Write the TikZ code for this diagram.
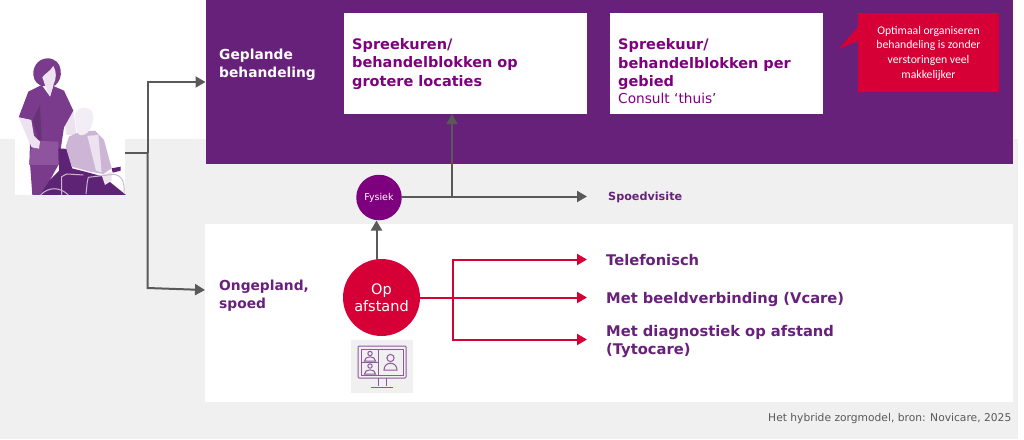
\documentclass[tikz,border=0pt]{standalone}
\usepackage{fontspec}
\setmainfont{DejaVu Sans}
\newfontfamily\calib{Carlito}
\definecolor{pur}{HTML}{68217A}
\definecolor{pur2}{HTML}{7F007F}
\definecolor{rd}{HTML}{D60036}
\definecolor{gr}{HTML}{F0F0F0}
\definecolor{ar}{HTML}{595959}
\definecolor{nurse}{HTML}{7A3B8C}
\definecolor{nurse2}{HTML}{8E559E}
\definecolor{skin}{HTML}{EDE3F0}
\definecolor{coat}{HTML}{CDB5D6}
\definecolor{dark}{HTML}{5F2376}
\usetikzlibrary{arrows.meta}
\tikzset{
  x=1pt,y=-1pt,
  hd/.style={font=\fontsize{14.5}{18.5}\selectfont\bfseries,text=pur2,align=left,anchor=north west,inner sep=0},
  side/.style={font=\fontsize{13.8}{18}\selectfont\bfseries,align=left,anchor=west,inner sep=0},
  opt/.style={font=\fontsize{14.7}{17.5}\selectfont\bfseries,text=pur,align=left,inner sep=0},
  garrow/.style={draw=ar,line width=2pt,-{Triangle[length=10pt,width=11pt]}},
  gline/.style={draw=ar,line width=2pt},
  rarrow/.style={draw=rd,line width=2pt,-{Triangle[length=10pt,width=11pt]}},
  iconline/.style={draw=pur!75!white,line width=1pt},
}
\begin{document}
\begin{tikzpicture}
\useasboundingbox (0,0) rectangle (1024,439);
\fill[white] (0,0) rectangle (1024,439);
\fill[gr] (0,139) rectangle (1018,439);
\fill[white] (15,139) rectangle (125,195);
\fill[pur] (206,0) rectangle (1013,164);
\fill[white] (205,224) rectangle (1013,402);
% person
\begin{scope}[shift={(0,40)},x=0.3333pt,y=-0.3333pt]
 % far arm
 \fill[skin] (190,235) -- (220,212) -- (230,285) -- (200,285) -- cycle;
 % trousers
 \fill[nurse] (90,370) -- (97,465) -- (150,465) -- (150,420) -- (178,370) -- cycle;
 % shirt
 \fill[nurse] (92,240) -- (88,375) -- (175,375) -- (192,262) -- (220,212) -- (192,152) -- (160,138) -- (150,170) -- (125,135) -- (85,155) -- (56,232) -- cycle;
 \fill[nurse2] (88,375) -- (92,330) -- (118,303) -- (175,305) -- (175,375) -- cycle;
 \fill[nurse!85!black] (120,195) -- (125,300) -- (115,300) -- (98,240) -- cycle;
 % arm
 \fill[skin] (56,232) -- (94,240) -- (102,288) -- (120,305) -- (117,326) -- (95,322) -- (83,295) -- cycle;
 % hair, face
 \fill[nurse] (140,55) .. controls (110,58) and (98,85) .. (100,105) .. controls (102,125) and (115,135) .. (128,138) -- (165,137) .. controls (178,125) and (185,110) .. (182,90) .. controls (180,70) and (165,54) .. (140,55) -- cycle;
 \fill[skin] (135,135) -- (127,112) .. controls (135,100) and (150,95) .. (160,78) .. controls (170,95) and (170,115) .. (160,135) -- (150,170) -- cycle;
 % old person
 \fill[dark] (175,325) -- (203,327) -- (220,400) -- (178,400) -- cycle;
 \fill[coat] (240,275) -- (285,272) -- (312,300) -- (335,385) -- (310,402) -- (270,395) -- (215,380) -- (197,320) -- (207,290) -- cycle;
 \fill[skin] (262,288) -- (295,285) -- (305,398) -- (288,392) -- cycle;
 \fill[skin!65!white] (225,235) .. controls (218,200) and (275,190) .. (280,225) .. controls (282,260) and (262,290) .. (240,285) .. controls (228,280) and (230,260) .. (225,235) -- cycle;
 % wheelchair and legs
 \fill[dark] (178,392) -- (215,385) -- (255,395) -- (310,410) -- (378,465) -- (120,465) -- (150,420) -- cycle;
 \fill[skin] (305,405) -- (335,395) -- (335,422) -- (315,435) -- cycle;
 \fill[dark] (335,385) -- (362,380) -- (362,392) -- (338,398) -- cycle;
 \draw[coat,line width=1pt] (185,465) -- (185,410) -- (200,402) -- (250,405);
 \draw[coat,line width=1pt] (122,465) .. controls (145,440) and (180,440) .. (205,465);
 \draw[coat,line width=1pt] (258,462) -- (262,425) -- (265,412) -- (340,403) .. controls (365,405) and (375,425) .. (372,460);
\end{scope}
% text panels
\fill[white] (343.5,13) rectangle (586.5,114);
\fill[white] (609.5,13) rectangle (823,114);
\node[side,text=white] (geplande) at (219,65) {Geplande\\behandeling};
\node[hd] (t1) at (352,38) {Spreekuren/\\behandelblokken op\\grotere locaties};
\node[hd] (t2) at (618,38.5) {Spreekuur/\\behandelblokken per\\gebied};
\node[anchor=base west,inner sep=0,text=pur2,font=\fontsize{13.7}{17}\selectfont] (t3) at (618,103) {Consult ‘thuis’};
% callout
\fill[rd] (858,13) -- (999,13) -- (999,92) -- (858,92) -- (858,27) -- (838.5,49) -- (858,41) -- cycle;
\node[font=\calib\fontsize{11.7}{14.7}\selectfont,text=white,align=center,inner sep=0] (callout) at (928.5,53) {Optimaal organiseren\\behandeling is zonder\\verstoringen veel\\makkelijker};
% circles
\node[circle,fill=pur2,minimum size=45.5pt,inner sep=0,text=white,font=\fontsize{9.5}{11}\selectfont] (fysiek) at (379,197.5) {Fysiek};
\node[circle,fill=rd,minimum size=77pt,inner sep=0,text=white,font=\fontsize{14.5}{17.5}\selectfont,align=center] (afstand) at (381.5,297.5) {Op\\afstand};
% labels
\node[font=\fontsize{11.2}{13}\selectfont\bfseries,text=pur,anchor=base west,inner sep=0] (spoed) at (608,200.5) {Spoedvisite};
\node[side,text=pur] (ongepland) at (219,296) {Ongepland,\\spoed};
\node[opt,anchor=base west] (tel) at (606,265) {Telefonisch};
\node[opt,anchor=base west] (beeld) at (606,303) {Met beeldverbinding (Vcare)};
\node[opt,anchor=west] (diag) at (606,341.5) {Met diagnostiek op afstand\\(Tytocare)};
\node[font=\fontsize{10.7}{13}\selectfont,text=ar,anchor=base east,inner sep=0] (bron) at (1011.5,421) {Het hybride zorgmodel, bron: Novicare, 2025};
% connectors left
\coordinate (imgR) at (125,153);
\coordinate (junc) at (147.5,153);
\coordinate (gepIn) at (205.5,82);
\coordinate (ongBend) at (147.5,288);
\coordinate (ongIn) at (205,290);
\draw[gline] (imgR) -- (junc);
\draw[garrow] (junc) |- (gepIn);
\draw[garrow] (junc) -- (ongBend) -- (ongIn);
% centre connectors
\coordinate (afTop) at (376.5,259.5);
\coordinate (fyBot) at (376.5,220.5);
\coordinate (spoedEnd) at (587,196.5);
\coordinate (fyR) at (401,196.5);
\coordinate (j2) at (452,196.5);
\coordinate (up) at (452,114);
\draw[garrow] (afTop) -- (fyBot);
\draw[garrow] (fyR) -- (spoedEnd);
\draw[garrow] (j2) -- (up);
% icon
\fill[gr] (351,340) rectangle (413,393);
\begin{scope}[iconline]
 \draw[rounded corners=1pt] (358,346) rectangle (406,378);
 \draw (361,349) rectangle (403,375);
 \draw (378,349) -- (378,375);
 \draw (361,362) -- (378,362);
 \draw (378,378) -- (378,386) (386,378) -- (386,386) (371,387) -- (393,387);
 \draw (370,353.5) circle (2.2);
 \draw (364.5,361) .. controls (364.5,355.5) and (375.5,355.5) .. (375.5,361) -- cycle;
 \draw (370,366) circle (2.2);
 \draw (364.5,374) .. controls (364.5,368.5) and (375.5,368.5) .. (375.5,374) -- cycle;
 \draw (390.5,358) circle (3.6);
 \draw (384,370) .. controls (384,361) and (397,361) .. (397,370) -- cycle;
\end{scope}
% red connectors
\coordinate (r0) at (453,297.5);
\coordinate (rTel) at (587,259.5);
\coordinate (rBeeld) at (587,297.5);
\coordinate (rDiag) at (587,339.5);
\draw[rarrow] (afstand.east) -- (rBeeld);
\draw[rarrow] (r0) |- (rTel);
\draw[rarrow] (r0) |- (rDiag);
\end{tikzpicture}
\end{document}
